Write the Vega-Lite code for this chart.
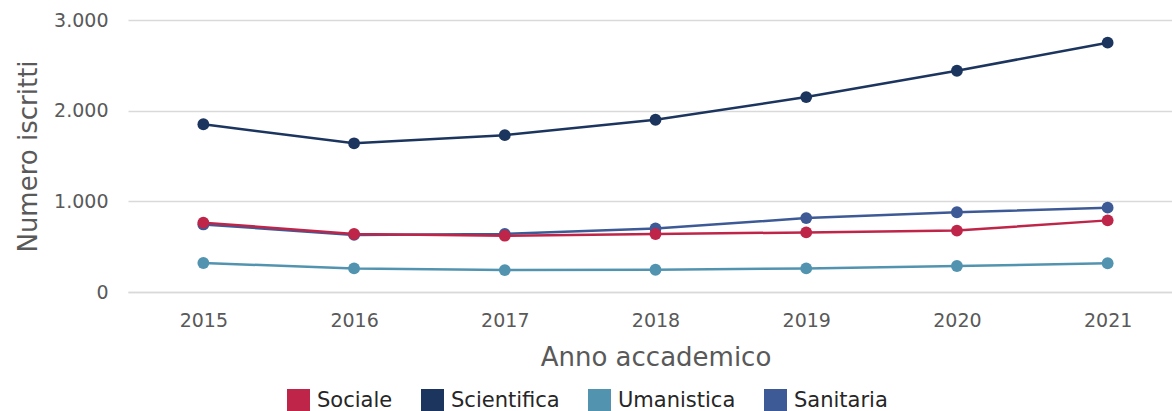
{
  "$schema": "https://vega.github.io/schema/vega-lite/v6.json",
  "width": 1055,
  "height": 272,
  "autosize": {"type": "none"},
  "padding": {"left": 128, "top": 20, "right": 0, "bottom": 119},
  "background": "white",
  "config": {
    "font": "DejaVu Sans",
    "view": {"stroke": null}
  },
  "data": {
    "values": [
      {"anno": "2015", "area": "Sanitaria", "iscritti": 745},
      {"anno": "2016", "area": "Sanitaria", "iscritti": 630},
      {"anno": "2017", "area": "Sanitaria", "iscritti": 640},
      {"anno": "2018", "area": "Sanitaria", "iscritti": 700},
      {"anno": "2019", "area": "Sanitaria", "iscritti": 815},
      {"anno": "2020", "area": "Sanitaria", "iscritti": 880},
      {"anno": "2021", "area": "Sanitaria", "iscritti": 930},
      {"anno": "2015", "area": "Umanistica", "iscritti": 320},
      {"anno": "2016", "area": "Umanistica", "iscritti": 260},
      {"anno": "2017", "area": "Umanistica", "iscritti": 242},
      {"anno": "2018", "area": "Umanistica", "iscritti": 245},
      {"anno": "2019", "area": "Umanistica", "iscritti": 260},
      {"anno": "2020", "area": "Umanistica", "iscritti": 287},
      {"anno": "2021", "area": "Umanistica", "iscritti": 317},
      {"anno": "2015", "area": "Scientifica", "iscritti": 1850},
      {"anno": "2016", "area": "Scientifica", "iscritti": 1640},
      {"anno": "2017", "area": "Scientifica", "iscritti": 1730},
      {"anno": "2018", "area": "Scientifica", "iscritti": 1900},
      {"anno": "2019", "area": "Scientifica", "iscritti": 2150},
      {"anno": "2020", "area": "Scientifica", "iscritti": 2440},
      {"anno": "2021", "area": "Scientifica", "iscritti": 2750},
      {"anno": "2015", "area": "Sociale", "iscritti": 765},
      {"anno": "2016", "area": "Sociale", "iscritti": 640},
      {"anno": "2017", "area": "Sociale", "iscritti": 621},
      {"anno": "2018", "area": "Sociale", "iscritti": 640},
      {"anno": "2019", "area": "Sociale", "iscritti": 657},
      {"anno": "2020", "area": "Sociale", "iscritti": 677},
      {"anno": "2021", "area": "Sociale", "iscritti": 790}
    ]
  },
  "encoding": {
    "x": {
      "field": "anno",
      "type": "ordinal",
      "scale": {"type": "point", "padding": 0.5},
      "axis": {
        "title": "Anno accademico",
        "labelAngle": 0,
        "labelFontSize": 19,
        "labelColor": "#595959",
        "labelPadding": 19,
        "titleFontSize": 26,
        "titleFontWeight": "normal",
        "titleColor": "#595959",
        "titlePadding": 14,
        "ticks": false,
        "domainColor": "#d9d9d9",
        "domainWidth": 1.5
      }
    },
    "y": {
      "field": "iscritti",
      "type": "quantitative",
      "scale": {"domain": [0, 3000]},
      "axis": {
        "title": "Numero iscritti",
        "values": [0, 1000, 2000, 3000],
        "labelExpr": "replace(format(datum.value, ','), ',', '.')",
        "labelFontSize": 19,
        "labelColor": "#595959",
        "labelPadding": 20,
        "titleFontSize": 26,
        "titleFontWeight": "normal",
        "titleColor": "#595959",
        "titlePadding": 12,
        "ticks": false,
        "domain": false,
        "gridColor": "#d9d9d9",
        "gridWidth": 1.5
      }
    },
    "color": {
      "field": "area",
      "type": "nominal",
      "scale": {
        "domain": ["Sociale", "Scientifica", "Umanistica", "Sanitaria"],
        "range": ["#BE2549", "#1C355E", "#5294B0", "#3D5A96"]
      },
      "legend": {
        "title": null,
        "orient": "none",
        "direction": "horizontal",
        "legendX": 159,
        "legendY": 369,
        "symbolType": "square",
        "symbolSize": 529,
        "symbolOpacity": 1,
        "symbolStrokeWidth": 0,
        "labelFontSize": 21,
        "labelColor": "#262626",
        "labelOffset": 7,
        "columnPadding": 28
      }
    }
  },
  "layer": [
    {"mark": {"type": "line", "strokeWidth": 2.5}},
    {"mark": {"type": "point", "filled": true, "size": 140, "opacity": 1}}
  ]
}
